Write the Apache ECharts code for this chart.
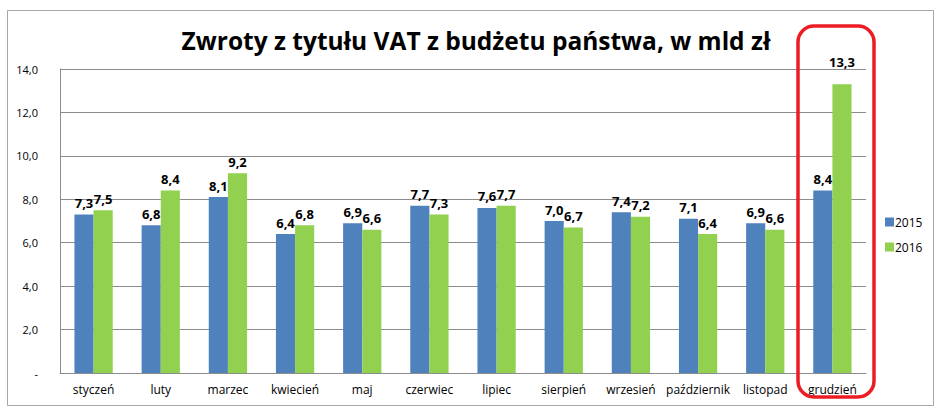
<!DOCTYPE html>
<html>
<head>
<meta charset="utf-8">
<style>
  html, body { margin: 0; padding: 0; background: #fff; }
  #chart { width: 945px; height: 408px; }
</style>
<script src="https://cdn.jsdelivr.net/npm/echarts@6/dist/echarts.min.js"></script>
</head>
<body>
<div id="chart"></div>
<script>
var months = ['styczeń', 'luty', 'marzec', 'kwiecień', 'maj', 'czerwiec', 'lipiec', 'sierpień', 'wrzesień', 'październik', 'listopad', 'grudzień'];
var vat2015 = [7.3, 6.8, 8.1, 6.4, 6.9, 7.7, 7.6, 7.0, 7.4, 7.1, 6.9, 8.4];
var vat2016 = [7.5, 8.4, 9.2, 6.8, 6.6, 7.3, 7.7, 6.7, 7.2, 6.4, 6.6, 13.3];
var yTicks = [0, 2, 4, 6, 8, 10, 12, 14];

var font = 'Open Sans';
var blue = '#4f81bd';
var green = '#92d050';
var grid = '#8c8c8c';

function fmt(v) {
  return v === 0 ? '-' : v.toFixed(1).replace('.', ',');
}

function labelled(values) {
  return values.map(function (v, i) {
    var item = { value: v };
    // the last December label sits higher in the original
    if (i === 11 && v > 12) item.label = { distance: 16 };
    return item;
  });
}

var chart = echarts.init(document.getElementById('chart'), null, { renderer: 'svg' });
chart.setOption({
  animation: false,
  title: {
    text: 'Zwroty z tytułu VAT z budżetu państwa, w mld zł',
    left: 471,
    top: 23,
    textAlign: 'center',
    textStyle: { fontFamily: font, fontWeight: 'bold', fontSize: 24.5, color: '#000' }
  },
  legend: {
    orient: 'vertical',
    left: 880,
    top: 211,
    itemWidth: 9,
    itemHeight: 9,
    itemGap: 13,
    icon: 'rect',
    textStyle: { fontFamily: font, fontSize: 12, color: '#000', padding: [0, 0, 0, -4] },
    data: ['2015', '2016']
  },
  grid: { left: 60, right: 79, top: 69, bottom: 35, containLabel: false },
  xAxis: {
    type: 'category',
    data: months,
    axisLine: { lineStyle: { color: grid, width: 1 } },
    axisTick: { show: false },
    axisLabel: { fontFamily: font, fontSize: 12, color: '#000', margin: 10, interval: 0 }
  },
  yAxis: {
    type: 'value',
    min: 0,
    max: 14,
    interval: 2,
    axisLine: { show: true, lineStyle: { color: grid, width: 1 } },
    axisTick: { show: false },
    splitLine: { lineStyle: { color: grid, width: 1 } },
    axisLabel: {
      fontFamily: font, fontSize: 11, color: '#000', margin: 22,
      formatter: function (v) { return yTicks.indexOf(v) >= 0 ? fmt(v) : ''; }
    }
  },
  series: [
    {
      name: '2015',
      type: 'bar',
      data: labelled(vat2015),
      itemStyle: { color: blue },
      barGap: '0%',
      barCategoryGap: '43%',
      label: {
        show: true, position: 'top', distance: 5,
        fontFamily: font, fontSize: 13, fontWeight: 'bold', color: '#000',
        formatter: function (p) { return fmt(p.value); }
      }
    },
    {
      name: '2016',
      type: 'bar',
      data: labelled(vat2016),
      itemStyle: { color: green },
      label: {
        show: true, position: 'top', distance: 5,
        fontFamily: font, fontSize: 13, fontWeight: 'bold', color: '#000',
        formatter: function (p) { return fmt(p.value); }
      }
    }
  ],
  graphic: [
    {
      type: 'rect',
      shape: { x: 7.5, y: 10.5, width: 926, height: 395 },
      style: { fill: 'none', stroke: '#a6a6a6', lineWidth: 1 },
      silent: true
    },
    {
      type: 'rect',
      shape: { x: 798, y: 26, width: 76, height: 371, r: 16 },
      style: { fill: 'none', stroke: '#ed1c24', lineWidth: 3.5 },
      silent: true,
      z: 100
    }
  ]
});
</script>
</body>
</html>
